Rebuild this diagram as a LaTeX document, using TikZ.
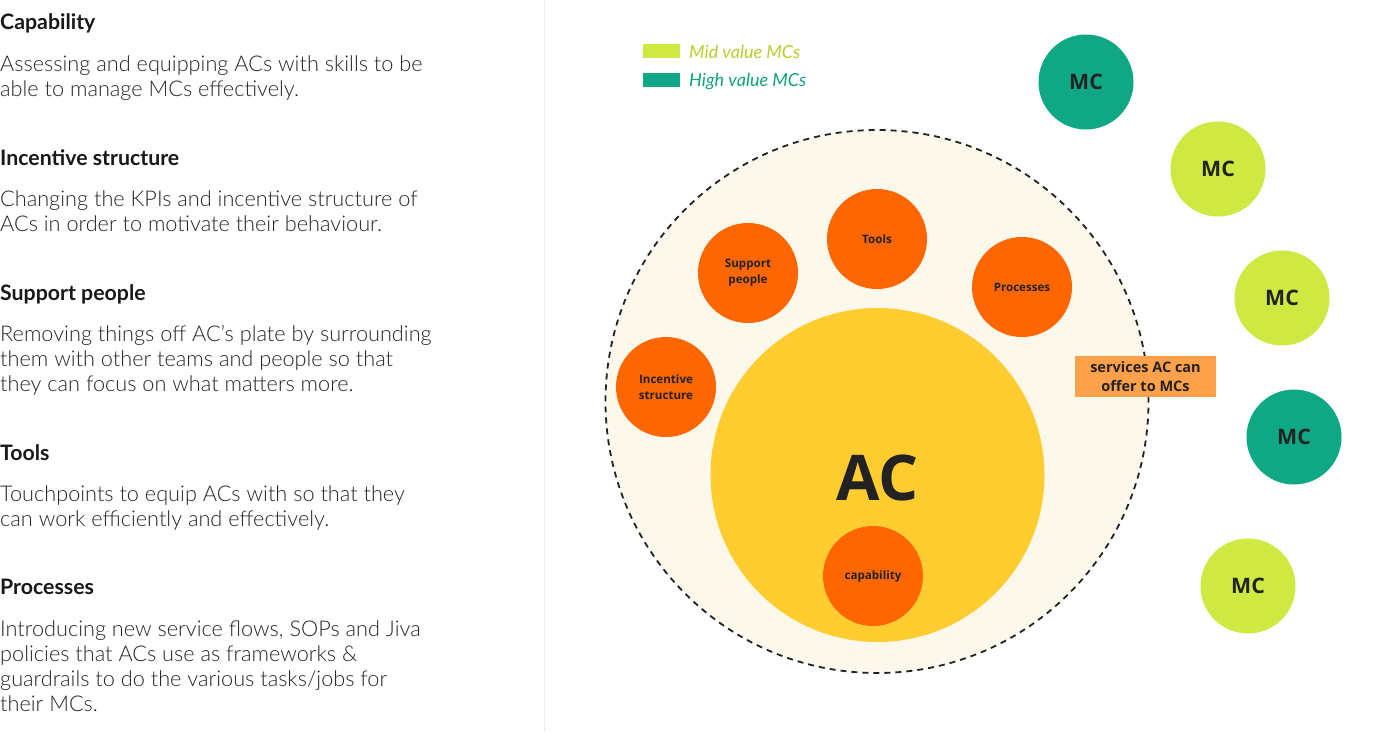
\documentclass[tikz,border=0pt]{standalone}
\usepackage{fontspec}
\setmainfont{Lato}
\newfontfamily\bodyfont{Lato Light}
\newfontfamily\headfont{Lato Bold}
\newfontfamily\legendfont{Lato Italic}
\newfontfamily\osbold{Open Sans Bold}
\definecolor{orangec}{HTML}{FE6602}
\definecolor{yellowc}{HTML}{FFCD30}
\definecolor{creamc}{HTML}{FDF8EC}
\definecolor{tealc}{HTML}{10A884}
\definecolor{limec}{HTML}{D0E842}
\definecolor{tealtext}{HTML}{10A282}
\definecolor{limetext}{HTML}{B6CF2C}
\definecolor{labelc}{HTML}{FFA04A}
\definecolor{inkc}{HTML}{222222}
\definecolor{dividerc}{HTML}{EEEEEE}
\begin{document}
\begin{tikzpicture}[x=1pt,y=-1pt,
  heading/.style={anchor=base west, inner sep=0pt, font=\headfont\fontsize{21.3}{25}\selectfont, text=black!90},
  bodyline/.style={anchor=base west, inner sep=0pt, font=\bodyfont\fontsize{21.7}{25}\selectfont, text=black!85},
  topic/.style={circle, fill=orangec, minimum size=100pt, inner sep=0pt, align=center,
    text=inkc, font=\osbold\fontsize{11.6}{16}\selectfont},
  mc/.style={circle, minimum size=95pt, inner sep=0pt, text=inkc, font=\osbold\fontsize{21.3}{24}\selectfont},
  legbox/.style={rectangle, minimum width=37pt, minimum height=14pt, inner sep=0pt},
  legtext/.style={anchor=west, inner sep=0pt, font=\legendfont\fontsize{18}{21}\selectfont}]
\useasboundingbox (0,0) rectangle (1380,732);
\fill[white] (0,0) rectangle (1380,732);
\draw[dividerc, line width=1pt] (544,0) -- (544,732);

% descriptions on the left
\node[heading] (h1) at (0,29) {Capability};
\node[bodyline] (b11) at (0,71) {Assessing and equipping ACs with skills to be};
\node[bodyline] (b12) at (0,96) {able to manage MCs effectively.};
\node[heading] (h2) at (0,165) {Incentive structure};
\node[bodyline] (b21) at (0,206) {Changing the KPIs and incentive structure of};
\node[bodyline] (b22) at (0,231) {ACs in order to motivate their behaviour.};
\node[heading] (h3) at (0,300) {Support people};
\node[bodyline] (b31) at (0,341) {Removing things off AC’s plate by surrounding};
\node[bodyline] (b32) at (0,366) {them with other teams and people so that};
\node[bodyline] (b33) at (0,391) {they can focus on what matters more.};
\node[heading] (h4) at (0,460) {Tools};
\node[bodyline] (b41) at (0,501) {Touchpoints to equip ACs with so that they};
\node[bodyline] (b42) at (0,526) {can work efficiently and effectively.};
\node[heading] (h5) at (0,594) {Processes};
\node[bodyline] (b51) at (0,636) {Introducing new service flows, SOPs and Jiva};
\node[bodyline] (b52) at (0,661) {policies that ACs use as frameworks \&};
\node[bodyline] (b53) at (0,686) {guardrails to do the various tasks/jobs for};
\node[bodyline] (b54) at (0,711) {their MCs.};

% legend
\node[legbox, fill=limec] (legmid) at (661.5,51) {};
\node[legtext, text=limetext] (legmidtext) at (689,52) {Mid value MCs};
\node[legbox, fill=tealc] (leghigh) at (661.5,80) {};
\node[legtext, text=tealtext] (leghightext) at (689,81.5) {High value MCs};

% service boundary and AC core
\node[circle, fill=creamc, draw=inkc, line width=1.8pt, dash pattern=on 6pt off 5pt,
  minimum size=543pt, inner sep=0pt] (boundary) at (877,401.5) {};
\node[circle, fill=yellowc, minimum size=334pt, inner sep=0pt] (ac) at (877.5,475) {};
\node[inner sep=0pt, text=inkc, font=\osbold\fontsize{63}{70}\selectfont] (aclabel) at (877.5,478) {AC};

% services
\node[topic] (capability) at (873,576) {capability};
\node[topic] (tools) at (877,239) {Tools};
\node[topic] (support) at (748,273) {Support\\people};
\node[topic] (processes) at (1022,287) {Processes};
\node[topic] (incentive) at (666,387) {Incentive\\structure};

\node[rectangle, fill=labelc, minimum width=141pt, minimum height=41pt, inner sep=0pt,
  align=center, text=inkc, font=\osbold\fontsize{14.5}{19}\selectfont] (services) at (1145.5,376.5)
  {services AC can\\offer to MCs};

% MCs
\node[mc, fill=tealc] (mc1) at (1086,82) {MC};
\node[mc, fill=limec] (mc2) at (1218,169) {MC};
\node[mc, fill=limec] (mc3) at (1282,298) {MC};
\node[mc, fill=tealc] (mc4) at (1294,437) {MC};
\node[mc, fill=limec] (mc5) at (1248,586) {MC};
\end{tikzpicture}
\end{document}
